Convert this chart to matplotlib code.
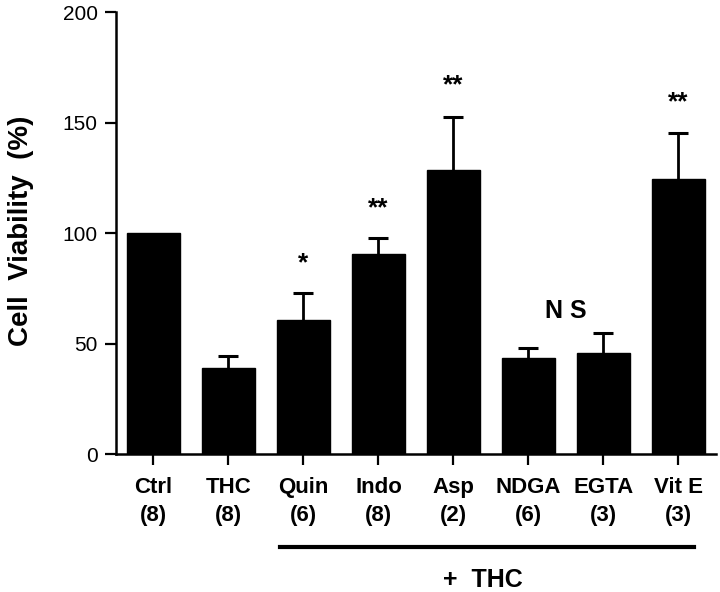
import numpy as np
import matplotlib
matplotlib.use("Agg")
import matplotlib.pyplot as plt
import matplotlib.transforms as mtransforms

plt.rcParams['font.family'] = ['Liberation Sans', 'DejaVu Sans']

labels = ["Ctrl", "THC", "Quin", "Indo", "Asp", "NDGA", "EGTA", "Vit E"]
n_vals = ["(8)", "(8)", "(6)", "(8)", "(2)", "(6)", "(3)", "(3)"]
viability = [100, 39, 60.6, 90.5, 128.6, 43.7, 45.7, 124.6]
sem = [0, 5.3, 12.3, 7.2, 24.2, 4.5, 9.3, 20.6]
stars = ["", "", "*", "**", "**", "", "", "**"]
star_y = [0, 0, 86.5, 111.5, 167, 0, 0, 159.5]

fig = plt.figure(figsize=(7.2, 5.92), dpi=100)
ax = fig.add_axes([0.161, 0.2326, 0.8334, 0.7466])

x = np.arange(len(labels))
v = np.array(viability)
e = np.array(sem)
ax.bar(x, v, width=0.7, color='black', edgecolor='black')
# upper error only: stem + cap
ax.errorbar(x[1:], v[1:], yerr=[np.zeros(len(e) - 1), e[1:]], fmt='none',
            ecolor='black', elinewidth=2, capsize=0)
ax.plot(x[1:], (v + e)[1:], ls='none', marker='_', markersize=15, mew=2.2, color='black')

for xi, s, sy in zip(x, stars, star_y):
    if s:
        ax.text(xi, sy, s, ha='center', va='center', fontsize=19, fontweight='bold')
ax.text(5.5, 65, "N S", ha='center', va='center', fontsize=18, fontweight='bold')

ax.set_xlim(-0.5, 7.5)
ax.set_ylim(0, 200)
ax.set_yticks([0, 50, 100, 150, 200])
ax.set_xticks(x)
ax.set_xticklabels([f"{l}\n{n}" for l, n in zip(labels, n_vals)],
                   fontsize=16, fontweight='bold', linespacing=1.45)
ax.tick_params(axis='y', labelsize=15, length=8, width=1.6, direction='out', pad=5)
ax.tick_params(axis='x', length=8, width=1.6, direction='out', pad=8)
for side in ['top', 'right']:
    ax.spines[side].set_visible(False)
for side in ['left', 'bottom']:
    ax.spines[side].set_linewidth(1.8)

ax.set_ylabel("Cell  Viability  (%)", fontsize=20, fontweight='bold')
ax.yaxis.label.set_verticalalignment('center')
ax.yaxis.set_label_coords(-0.158, 0.505)

trans = mtransforms.blended_transform_factory(ax.transData, ax.transAxes)
ax.plot([1.69, 7.21], [-0.209, -0.209], color='black', lw=3, transform=trans, clip_on=False)
ax.text(4.39, -0.284, "+  THC", ha='center', va='center', fontsize=18,
        fontweight='bold', transform=trans)

fig.savefig("out.png", dpi=100)
